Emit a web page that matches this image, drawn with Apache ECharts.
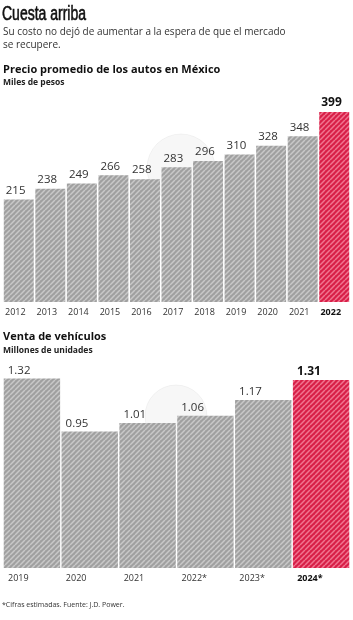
<!DOCTYPE html>
<html>
<head>
<meta charset="utf-8">
<script src="https://cdn.jsdelivr.net/npm/echarts@6/dist/echarts.min.js"></script>
<style>
  html, body { margin: 0; padding: 0; background: #fff; }
  #chart { width: 353px; height: 620px; }
</style>
</head>
<body>
<div id="chart"></div>
<script>
// Precio promedio (miles de pesos)
const years1 = ['2012', '2013', '2014', '2015', '2016', '2017', '2018', '2019', '2020', '2021', '2022'];
const precio = [215, 238, 249, 266, 258, 283, 296, 310, 328, 348, 399];

// Venta de vehículos (millones de unidades)
const years2 = ['2019', '2020', '2021', '2022*', '2023*', '2024*'];
const ventas = [1.32, 0.95, 1.01, 1.06, 1.17, 1.31];

const FONT = '"Open Sans", sans-serif';

function stripes(base, line) {
    const s = 5;
    const c = document.createElement('canvas');
    c.width = s; c.height = s;
    const g = c.getContext('2d');
    g.fillStyle = base;
    g.fillRect(0, 0, s, s);
    g.strokeStyle = line;
    g.lineWidth = 1.5;
    g.beginPath();
    for (let k = -1; k <= 1; k++) {
        g.moveTo(k * s, s);
        g.lineTo(k * s + s, 0);
    }
    g.stroke();
    return { image: c, repeat: 'repeat' };
}

const grayFill = stripes('#a0a0a0', '#c8c8c8');
const redFill = stripes('#d81f48', '#f07590');

const chartDom = document.getElementById('chart');
const myChart = echarts.init(chartDom);

function barData(values, fmt) {
    return values.map((v, i) => {
        const last = i === values.length - 1;
        return {
            value: v,
            itemStyle: { color: last ? redFill : grayFill },
            label: {
                formatter: fmt(v),
                fontWeight: last ? 'bold' : 'normal',
                color: last ? '#111' : '#333',
                fontSize: last ? 12 : 11.5
            }
        };
    });
}

function text(x, y, str, size, weight, color) {
    return {
        type: 'text',
        x: x,
        y: y,
        style: {
            text: str,
            fontSize: size,
            fontWeight: weight,
            fontFamily: FONT,
            fill: color || '#222',
            verticalAlign: 'middle'
        }
    };
}

// faint watermark behind the bars
function mark(cx, cy, r) {
    return {
        type: 'circle', z: -1,
        shape: { cx: cx, cy: cy, r: r },
        style: { fill: 'rgba(0,0,0,0.03)', stroke: 'rgba(0,0,0,0.045)', lineWidth: 1 }
    };
}

const option = {
    backgroundColor: '#fff',
    animation: false,
    graphic: [
        mark(181, 168, 34),
        mark(176, 416, 31),
        {
            type: 'text', x: 2, y: 14, scaleX: 0.7,
            style: {
                text: 'Cuesta arriba', fontSize: 20, fontWeight: 'normal',
                fontFamily: '"Liberation Sans", Arial, sans-serif', fill: '#111',
                stroke: '#111', lineWidth: 0.6,
                verticalAlign: 'middle'
            }
        },
        text(3, 32, 'Su costo no dejó de aumentar a la espera de que el mercado', 10, 'normal', '#333'),
        text(3, 45.5, 'se recupere.', 10, 'normal', '#333'),
        text(3, 69.5, 'Precio promedio de los autos en México', 11, 'bold', '#111'),
        text(3, 82.5, 'Miles de pesos', 8.5, 'bold', '#222'),
        text(3, 337, 'Venta de vehículos', 11, 'bold', '#111'),
        text(3, 351, 'Millones de unidades', 8.5, 'bold', '#222'),
        text(2, 604.5, '*Cifras estimadas. Fuente: J.D. Power.', 7, 'normal', '#333')
    ],
    grid: [
        { left: 3, right: 3, top: 112, height: 190 },
        { left: 3, right: 3, top: 378.5, height: 189.5 }
    ],
    xAxis: [
        {
            type: 'category', gridIndex: 0, data: years1,
            axisLine: { show: false }, axisTick: { show: false }, axisLabel: { show: false }
        },
        {
            type: 'value', gridIndex: 0, min: 0, max: years1.length, interval: 1,
            position: 'bottom',
            axisLine: { show: false }, axisTick: { show: false }, splitLine: { show: false },
            axisLabel: {
                showMinLabel: true, showMaxLabel: true,
                align: 'left', margin: 6, padding: [0, 0, 0, 2],
                fontFamily: FONT, fontSize: 9, color: '#333',
                formatter: v => {
                    const s = years1[v] || '';
                    return v === years1.length - 1 ? '{b|' + s + '}' : s;
                },
                rich: { b: { fontWeight: 'bold', fontFamily: FONT, fontSize: 9, color: '#111' } }
            }
        },
        {
            type: 'category', gridIndex: 1, data: years2,
            axisLine: { show: false }, axisTick: { show: false }, axisLabel: { show: false }
        },
        {
            type: 'value', gridIndex: 1, min: 0, max: years2.length, interval: 1,
            position: 'bottom',
            axisLine: { show: false }, axisTick: { show: false }, splitLine: { show: false },
            axisLabel: {
                showMinLabel: true, showMaxLabel: true,
                align: 'left', margin: 6, padding: [0, 0, 0, 5],
                fontFamily: FONT, fontSize: 9, color: '#333',
                formatter: v => {
                    const s = years2[v] || '';
                    return v === years2.length - 1 ? '{b|' + s + '}' : s;
                },
                rich: { b: { fontWeight: 'bold', fontFamily: FONT, fontSize: 9, color: '#111' } }
            }
        }
    ],
    yAxis: [
        { type: 'value', gridIndex: 0, min: 0, max: 399, show: false },
        { type: 'value', gridIndex: 1, min: 0, max: 1.32, show: false }
    ],
    series: [
        {
            type: 'bar', xAxisIndex: 0, yAxisIndex: 0,
            barCategoryGap: '5%',
            data: barData(precio, v => String(v)),
            label: {
                show: true, position: [2, -9], verticalAlign: 'middle', align: 'left',
                fontFamily: FONT
            }
        },
        {
            type: 'bar', xAxisIndex: 2, yAxisIndex: 1,
            barCategoryGap: '2.5%',
            data: barData(ventas, v => v.toFixed(2)),
            label: {
                show: true, position: [4, -8], verticalAlign: 'middle', align: 'left',
                fontFamily: FONT
            }
        }
    ]
};

myChart.setOption(option);
window.addEventListener('resize', () => myChart.resize());
</script>
</body>
</html>
